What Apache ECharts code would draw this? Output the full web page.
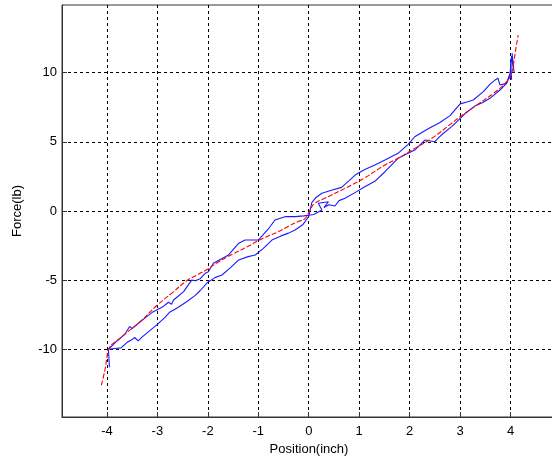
<!DOCTYPE html>
<html>
<head>
<meta charset="utf-8">
<script src="https://cdn.jsdelivr.net/npm/echarts@6/dist/echarts.min.js"></script>
<style>
html,body{margin:0;padding:0;background:#fff;}
#chart{width:552px;height:461px;}
</style>
</head>
<body>
<div id="chart"></div>
<script>
const xTicks = [-4, -3, -2, -1, 0, 1, 2, 3, 4];
const yTicks = [-10, -5, 0, 5, 10];

// red dashed fitted curve [position, force]
const fitCurve = [
  [-4.11,-12.6],[-4.07,-12.0],[-4.03,-11.3],[-4.0,-10.6],[-3.97,-10.0],[-3.74,-9.2],
  [-3.34,-8.0],[-3.0,-6.8],[-2.7,-5.9],[-2.42,-5.05],[-2.2,-4.6],[-2.0,-4.2],
  [-1.8,-3.7],[-1.5,-3.1],[-1.2,-2.55],[-1.0,-2.15],[-0.8,-1.8],
  [-0.6,-1.49],[-0.4,-1.1],[-0.2,-0.75],[-0.07,-0.53],[0.03,0.1],[0.12,0.56],
  [0.32,0.92],[0.72,1.64],[1.11,2.4],[1.51,3.33],[1.77,3.81],[2.1,4.53],[2.44,5.26],
  [2.83,6.34],[3.0,6.82],[3.33,7.66],[3.66,8.51],[3.92,9.35],[4.02,9.96],[4.06,10.7],
  [4.09,11.4],[4.15,12.73]
];

// blue measured branch: lower on left, upper on right
const branchA = [
  [-3.95,-11.3],[-3.97,-10.0],[-3.85,-9.95],[-3.72,-9.9],[-3.6,-9.5],[-3.5,-9.3],
  [-3.45,-9.15],[-3.38,-9.4],[-3.3,-9.1],[-3.15,-8.65],[-3.0,-8.2],[-2.85,-7.7],
  [-2.75,-7.3],[-2.6,-7.0],[-2.42,-6.56],[-2.25,-6.1],[-2.15,-5.75],[-2.0,-5.15],[-1.85,-4.8],
  [-1.72,-4.63],[-1.55,-4.1],[-1.39,-3.54],[-1.2,-3.3],[-1.06,-3.18],[-0.9,-2.7],
  [-0.73,-2.1],[-0.55,-1.8],[-0.4,-1.6],[-0.27,-1.37],[-0.12,-1.0],[0.0,-0.4],
  [0.06,0.6],[0.15,1.0],[0.26,1.28],[0.45,1.5],[0.65,1.71],[0.8,2.2],[0.92,2.6],
  [1.11,3.0],[1.31,3.33],[1.51,3.69],[1.77,4.17],[1.97,4.82],[2.1,5.37],[2.3,5.8],
  [2.44,6.1],[2.6,6.4],[2.8,6.9],[3.0,7.75],[3.15,7.9],[3.26,8.03],[3.46,8.63],
  [3.6,9.2],[3.69,9.47],[3.75,9.6],[3.79,9.11],[3.92,9.23],[3.99,9.96],[4.02,11.2],
  [4.05,10.4],[4.03,11.4],[4.07,10.0]
];

// blue measured branch: upper on left, lower on right
const branchB = [
  [4.0,11.0],[4.02,9.5],[3.99,9.84],[3.92,9.23],[3.79,8.75],[3.59,8.15],[3.45,7.85],
  [3.29,7.59],[3.1,7.05],[2.9,6.34],[2.83,6.1],[2.63,5.5],[2.5,5.01],[2.3,5.13],
  [2.1,4.41],[1.77,3.81],[1.51,2.84],[1.31,2.15],[1.11,1.75],[0.95,1.4],[0.72,0.92],
  [0.6,0.75],[0.52,0.36],[0.4,0.45],[0.3,0.25],[0.39,0.67],[0.19,0.56],[0.26,0.07],
  [0.1,-0.25],[0.03,-0.29],[-0.1,-0.35],[-0.27,-0.41],[-0.47,-0.41],[-0.67,-0.65],
  [-0.8,-1.3],[-1.0,-2.1],[-1.26,-2.1],[-1.39,-2.34],[-1.59,-3.18],[-1.89,-3.78],
  [-1.99,-4.39],[-2.05,-4.5],[-2.15,-4.9],[-2.25,-5.05],[-2.32,-5.0],[-2.48,-5.83],
  [-2.6,-6.2],[-2.68,-6.44],[-2.72,-6.75],[-2.78,-6.6],[-2.9,-6.95],[-3.08,-7.28],
  [-3.2,-7.6],[-3.37,-8.1],[-3.5,-8.5],[-3.55,-8.35],[-3.64,-8.9],[-3.8,-9.4],[-3.97,-10.0]
];

const font = "'Liberation Sans', Arial, sans-serif";
const chart = echarts.init(document.getElementById('chart'), null, {renderer: 'canvas'});
chart.setOption({
  animation: false,
  backgroundColor: '#fff',
  grid: {left: 62, right: -4, top: 5, bottom: 44, show: true, borderColor: '#333', borderWidth: 1, containLabel: false, outerBoundsMode: 'none'},
  xAxis: {
    type: 'value', min: -4.89, max: 4.9,
    name: 'Position(inch)', nameLocation: 'middle', nameGap: 26,
    nameTextStyle: {color: '#000', fontSize: 13, fontFamily: font},
    axisLine: {show: true, onZero: false, lineStyle: {color: '#333', width: 1}},
    axisTick: {show: true, inside: true, length: 5, customValues: xTicks, lineStyle: {color: '#333'}},
    axisLabel: {customValues: xTicks, color: '#000', fontSize: 13, fontFamily: font, margin: 8},
    splitLine: {show: true, lineStyle: {color: '#000', type: [3, 3], width: 1}}
  },
  yAxis: {
    type: 'value', min: -14.9, max: 14.9,
    name: 'Force(lb)', nameLocation: 'middle', nameGap: 38,
    nameTextStyle: {color: '#000', fontSize: 13, fontFamily: font},
    axisLine: {show: true, onZero: false, lineStyle: {color: '#333', width: 1}},
    axisTick: {show: true, inside: true, length: 5, customValues: yTicks, lineStyle: {color: '#333'}},
    axisLabel: {customValues: yTicks, color: '#000', fontSize: 13, fontFamily: font, margin: 5},
    splitLine: {show: true, lineStyle: {color: '#000', type: [3, 3], width: 1}}
  },
  series: [
    {type: 'line', data: branchA, showSymbol: false, smooth: false, lineStyle: {color: '#1a1aff', width: 1.1}, z: 2},
    {type: 'line', data: branchB, showSymbol: false, smooth: false, lineStyle: {color: '#1a1aff', width: 1.1}, z: 2},
    {type: 'line', data: fitCurve, showSymbol: false, smooth: true, lineStyle: {color: '#ff0000', width: 1.1, type: [5, 2]}, z: 3}
  ]
});
</script>
</body>
</html>
